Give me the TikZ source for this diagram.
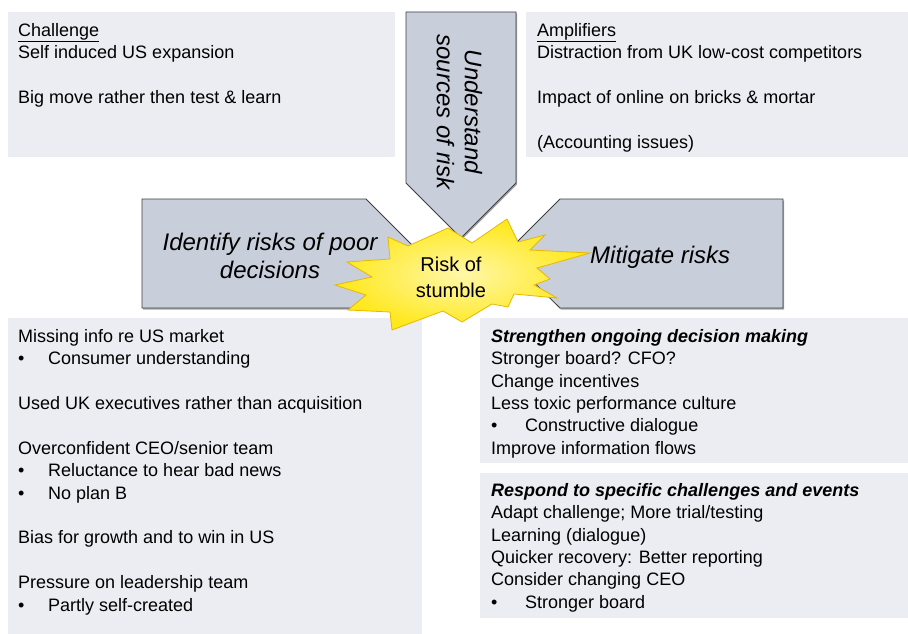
\documentclass[tikz,border=0pt]{standalone}
\usepackage{fontspec}
\setmainfont{Liberation Sans}
\usetikzlibrary{shadows}

\definecolor{boxfill}{HTML}{ECEDF2}
\definecolor{shapefill}{HTML}{C9CEDB}
\definecolor{shapeline}{HTML}{3F3F3F}
\definecolor{burstfill}{HTML}{FFE81A}
\definecolor{burstcore}{HTML}{FFF7A8}
\definecolor{burstline}{HTML}{E6B800}

% bullet followed by a fixed indent
\newcommand{\itembul}[1][30pt]{\makebox[#1][l]{\textbullet}}
% invisible strut fixing the height of a first line
\newcommand{\firststrut}[1]{\rule{0pt}{#1}}

\begin{document}
\begin{tikzpicture}[x=1pt,y=-1pt,
  panel/.style={fill=boxfill},
  blockshape/.style={fill=shapefill, draw=shapeline, line width=0.8pt, line join=miter,
    drop shadow={shadow xshift=1pt, shadow yshift=-1.5pt, opacity=0.35, fill=black}},
  burst/.style={draw=burstline, line width=0.8pt, line join=miter,
    inner color=burstcore, outer color=burstfill},
  boxtext/.style={anchor=north west, inner sep=0pt, align=left,
    font=\fontsize{18}{22.4}\selectfont},
  bigtext/.style={inner sep=0pt, align=center,
    font=\fontsize{24}{28}\selectfont\itshape},
  bursttext/.style={inner sep=0pt, align=center,
    font=\fontsize{20}{26}\selectfont}]
\useasboundingbox (0,0) rectangle (908,634);

% text panels
\fill[panel] (8,12) rectangle (395,157);
\fill[panel] (526,12) rectangle (908,157);
\fill[panel] (8,318) rectangle (422,634);
\fill[panel] (480,318) rectangle (908,463);
\fill[panel] (480,473) rectangle (908,618);

\node[boxtext] (challenge) at (18,22) {\firststrut{14pt}\underline{Challenge}\\
  Self induced US expansion\\ ~\\
  Big move rather then test \& learn};

\node[boxtext] (amplifiers) at (537,22) {\firststrut{14pt}\underline{Amplifiers}\\
  Distraction from UK low-cost competitors\\ ~\\
  Impact of online on bricks \& mortar\\ ~\\
  (Accounting issues)};

\node[boxtext] (causes) at (18,328) {\firststrut{14pt}Missing info re US market\\
  \itembul Consumer understanding\\ ~\\
  Used UK executives rather than acquisition\\ ~\\
  Overconfident CEO/senior team\\
  \itembul Reluctance to hear bad news\\
  \itembul No plan B\\ ~\\
  Bias for growth and to win in US\\ ~\\
  Pressure on leadership team\\
  \itembul Partly self-created};

\node[boxtext] (strengthen) at (491,328) {\firststrut{14pt}\textbf{\textit{Strengthen ongoing decision making}}\\
  Stronger board? CFO?\\
  Change incentives\\
  Less toxic performance culture\\
  \itembul[29pt] Constructive dialogue\\
  Improve information flows};

\node[boxtext] (respond) at (491,482) {\firststrut{14pt}\textbf{\textit{Respond to specific challenges and events}}\\
  Adapt challenge; More trial/testing\\
  Learning (dialogue)\\
  Quicker recovery: Better reporting\\
  Consider changing CEO\\
  \itembul[29pt] Stronger board};

% three arrow blocks pointing at the centre
\draw[blockshape] (406,12) -- (516,12) -- (516,183) -- (461,238) -- (406,183) -- cycle;
\draw[blockshape] (142,199) -- (366,199) -- (421,254) -- (366,308) -- (142,308) -- cycle;
\draw[blockshape] (505,254) -- (560,199) -- (783,199) -- (783,308) -- (560,308) -- cycle;

\node[bigtext, anchor=north, rotate=-90] (understand) at (483,112)
  {\firststrut{18pt}Understand\\ sources of risk};
\node[bigtext, anchor=north] (identify) at (270,232)
  {\firststrut{18pt}Identify risks of poor\\ decisions};
\node[bigtext, anchor=base west] (mitigate) at (590,263) {Mitigate risks};

% central burst
\draw[burst] (448,228) -- (472,243) -- (507,219) -- (518,242) -- (545,235) -- (530,250)
  -- (590,253) -- (537,268) -- (550,279) -- (534,285) -- (557,298) -- (514,294)
  -- (508,307) -- (492,304) -- (462,322) -- (443,311) -- (392,330) -- (390,312)
  -- (348,310) -- (366,295) -- (335,285) -- (372,277) -- (347,262) -- (390,259)
  -- (388,237) -- (408,246) -- cycle;
\node[bursttext, anchor=north] (stumble) at (451,256) {\firststrut{15pt}Risk of\\ stumble};

\end{tikzpicture}
\end{document}
